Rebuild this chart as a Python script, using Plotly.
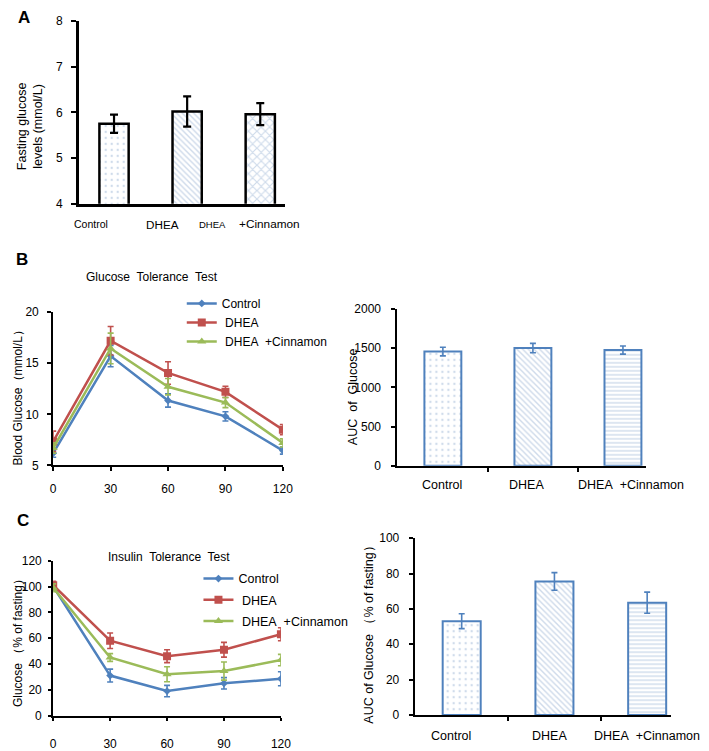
import plotly.graph_objects as go

# The page body adds an 8px margin; the figure is sized so it ends exactly at the window edge.
OFF = 8
W, H = 709 - OFF, 751 - OFF
def px(x): return (x - OFF) / W
def py(y): return 1 - (y - OFF) / H

FONT = "Liberation Sans, Arial, sans-serif"

# ---------------- data ----------------
CATEGORIES = ["Control", "DHEA", "DHEA +Cinnamon"]
A_LABELS = ["Control", "DHEA", "DHEA", "+Cinnamon"]
A_MEAN = [5.75, 6.02, 5.96]
A_ERR = [0.20, 0.33, 0.24]

TIME = [0, 30, 60, 90, 120]
GTT_CONTROL = [6.2, 15.7, 11.35, 9.8, 6.45]
GTT_CONTROL_ERR = [0.4, 1.05, 0.65, 0.45, 0.35]
GTT_DHEA = [7.35, 17.2, 14.05, 12.2, 8.5]
GTT_DHEA_ERR = [1.0, 1.4, 1.1, 0.55, 0.5]
GTT_CINN = [6.7, 16.45, 12.7, 11.15, 7.2]
GTT_CINN_ERR = [0.5, 1.5, 0.8, 0.5, 0.4]

AUC_GTT = [1455, 1500, 1475]
AUC_GTT_ERR = [55, 60, 52]

ITT_CONTROL = [100, 31, 19, 25, 28.5]
ITT_CONTROL_ERR = [3, 5, 4.4, 4.4, 5.4]
ITT_DHEA = [101, 58, 46, 51, 63]
ITT_DHEA_ERR = [3, 6, 5, 5.7, 5]
ITT_CINN = [99, 45, 32, 34.5, 43]
ITT_CINN_ERR = [3, 3, 5.8, 7, 4.4]

AUC_ITT = [53, 75.5, 63.5]
AUC_ITT_ERR = [4.2, 5, 6]

BLUE, RED, GREEN = "#4F81BD", "#C0504D", "#9BBB59"
PAT = "#9db6d6"

fig = go.Figure()
xc = [0, 1, 2]

# ---------------- Panel A ----------------
fig.add_trace(go.Bar(
    x=xc, y=A_MEAN, width=0.40, xaxis="x", yaxis="y", showlegend=False,
    marker=dict(color="white", line=dict(color="black", width=2.5),
                pattern=dict(shape=[".", "\\", "x"], fgcolor=PAT, bgcolor="white",
                             size=[6, 4, 6], solidity=[0.12, 0.35, 0.35])),
    error_y=dict(type="data", array=A_ERR, color="black", thickness=2.2, width=4),
))

LEG_NAMES = ["Control", "\u00a0DHEA", "\u00a0DHEA\u00a0 +Cinnamon"]

# ---------------- Panel B left: GTT ----------------
for i, (name, ys, es, col, sym, sz) in enumerate([
    (LEG_NAMES[0], GTT_CONTROL, GTT_CONTROL_ERR, BLUE, "diamond", 6),
    (LEG_NAMES[1], GTT_DHEA, GTT_DHEA_ERR, RED, "square", 8),
    (LEG_NAMES[2], GTT_CINN, GTT_CINN_ERR, GREEN, "triangle-up", 8),
]):
    fig.add_trace(go.Scatter(
        x=TIME, y=ys, name=name, mode="lines+markers", xaxis="x2", yaxis="y2",
        legend="legend", legendgroup=f"b{i}", line=dict(color=col, width=2.5),
        marker=dict(symbol=sym, size=sz, color=col),
        error_y=dict(type="data", array=es, color=col, thickness=1.6, width=3),
    ))

# ---------------- Panel B right: AUC GTT ----------------
fig.add_trace(go.Bar(
    x=xc, y=AUC_GTT, width=0.41, xaxis="x3", yaxis="y3", showlegend=False,
    marker=dict(color="white", line=dict(color=BLUE, width=2),
                pattern=dict(shape=[".", "\\", "-"], fgcolor=PAT, bgcolor="white",
                             size=[6, 4, 4], solidity=[0.12, 0.35, 0.35])),
    error_y=dict(type="data", array=AUC_GTT_ERR, color=BLUE, thickness=1.6, width=3),
))

# ---------------- Panel C left: ITT ----------------
for i, (name, ys, es, col, sym, sz) in enumerate([
    (LEG_NAMES[0], ITT_CONTROL, ITT_CONTROL_ERR, BLUE, "diamond", 6),
    (LEG_NAMES[1], ITT_DHEA, ITT_DHEA_ERR, RED, "square", 8),
    (LEG_NAMES[2], ITT_CINN, ITT_CINN_ERR, GREEN, "triangle-up", 8),
]):
    fig.add_trace(go.Scatter(
        x=TIME, y=ys, name=name, mode="lines+markers", xaxis="x4", yaxis="y4",
        legend="legend2", legendgroup=f"c{i}", line=dict(color=col, width=2.5),
        marker=dict(symbol=sym, size=sz, color=col),
        error_y=dict(type="data", array=es, color=col, thickness=1.6, width=3),
    ))

# ---------------- Panel C right: AUC ITT ----------------
fig.add_trace(go.Bar(
    x=xc, y=AUC_ITT, width=0.41, xaxis="x5", yaxis="y5", showlegend=False,
    marker=dict(color="white", line=dict(color=BLUE, width=2),
                pattern=dict(shape=[".", "\\", "-"], fgcolor=PAT, bgcolor="white",
                             size=[6, 4, 4], solidity=[0.12, 0.35, 0.35])),
    error_y=dict(type="data", array=AUC_ITT_ERR, color=BLUE, thickness=1.6, width=3),
))

def xax(d0, d1, anchor, rng, **kw):
    base = dict(domain=[px(d0), px(d1)], anchor=anchor, range=rng, showline=True,
                linecolor="black", linewidth=2, showgrid=False, zeroline=False,
                tickfont=dict(family=FONT, size=12, color="black"), fixedrange=True)
    base.update(kw)
    return base

def yax(t, b, anchor, rng, **kw):
    base = dict(domain=[py(b), py(t)], anchor=anchor, range=rng, showline=True,
                linecolor="black", linewidth=2, showgrid=False, zeroline=False,
                ticks="outside", ticklen=4, tickwidth=1.5, tickcolor="black",
                tickfont=dict(family=FONT, size=12, color="black"), fixedrange=True)
    base.update(kw)
    return base

annotations = []
def ann(text, x, y, size=12, bold=False, angle=0, xanchor="center"):
    annotations.append(dict(text=f"<b>{text}</b>" if bold else text, x=px(x), y=py(y),
                            xref="paper", yref="paper", showarrow=False, textangle=angle,
                            xanchor=xanchor, yanchor="middle",
                            font=dict(family=FONT, size=size, color="black")))

# Panel letters
ann("A", 21, 11, size=17, bold=True)
ann("B", 19, 258, size=17, bold=True)
ann("C", 20, 525, size=17, bold=True)

# Panel A labels
for txt, x, s in zip(A_LABELS, [90, 162, 213, 271], [10.5, 11.7, 9.5, 11.8]):
    ann(txt, x, 222, size=s)
ann("Fasting glucose<br>levels (mmol/L)", 27, 122, size=12.5, angle=-90)

# Titles
ann("Glucose\u00a0 Tolerance\u00a0 Test", 152, 276, size=12)
ann("Insulin\u00a0 Tolerance\u00a0 Test", 169, 562, size=12)

# Y titles
ann("Blood Glucose（mmol/L）", 15, 396, size=12, angle=-90)
ann("AUC\u00a0 of\u00a0 Glucose", 356, 398, size=12.5, angle=-90)
ann("Glucose\u00a0（% of fasting）", 15, 647, size=12, angle=-90)
ann("AUC of Glucose\u00a0（% of fasting）", 373, 638, size=12.5, angle=-90)

# Category labels
lab_b = ["Control", "DHEA", "DHEA\u00a0 +Cinnamon"]
for txt, x in zip(lab_b, [447.5, 533.5, 640]):
    ann(txt, x, 488, size=12.5)
for txt, x in zip(lab_b, [456.5, 556.5, 656]):
    ann(txt, x, 745, size=12.5)

fig.update_layout(
    width=W, height=H, margin=dict(l=0, r=0, t=0, b=0),
    paper_bgcolor="white", plot_bgcolor="rgba(0,0,0,0)",
    font=dict(family=FONT, color="black"),
    barmode="overlay",
    xaxis=xax(77, 287, "y", [-0.483, 2.336], showticklabels=False, ticks="", linewidth=2.5),
    yaxis=yax(14, 201, "x", [4, 8], dtick=1, ticklen=5, linewidth=2.5,
              tickfont=dict(family=FONT, size=12, color="black"), ticklabelstandoff=6),
    xaxis2=xax(51, 285, "y2", [0, 120], tickvals=TIME, ticks="outside", ticklen=4,
               tickwidth=1.5, tickcolor="black", ticklabelstandoff=7),
    yaxis2=yax(311.7, 468.3, "x2", [5, 20], dtick=5, ticklabelstandoff=6),
    xaxis3=xax(401.7, 655, "y3", [-0.505, 2.256], tickvals=[0.5, 1.5], ticktext=["", ""],
               ticks="outside", ticklen=4, tickwidth=1.5, tickcolor="black"),
    yaxis3=yax(308.3, 468.7, "x3", [0, 2000], dtick=500, ticklabelstandoff=8),
    xaxis4=xax(51, 283, "y4", [0, 120], tickvals=TIME, ticks="outside", ticklen=3,
               tickwidth=1.5, tickcolor="black", ticklabelstandoff=13),
    yaxis4=yax(565.7, 724, "x4", [0, 120], dtick=20, ticklen=3, ticklabelstandoff=4),
    xaxis5=xax(419.3, 680, "y5", [-0.507, 2.252], tickvals=[0.5, 1.5], ticktext=["", ""],
               ticks="outside", ticklen=4, tickwidth=1.5, tickcolor="black"),
    yaxis5=yax(542.7, 723.3, "x5", [0, 100], dtick=20, ticklabelstandoff=7),
    legend=dict(x=px(182), y=py(288), xanchor="left", yanchor="top",
                bgcolor="rgba(0,0,0,0)", font=dict(family=FONT, size=12, color="black"),
                itemwidth=30, tracegroupgap=0),
    legend2=dict(x=px(199), y=py(569), xanchor="left", yanchor="top",
                 bgcolor="rgba(0,0,0,0)", font=dict(family=FONT, size=12.5, color="black"),
                 itemwidth=30, tracegroupgap=2),
    annotations=annotations,
)

fig.write_html("out.html")
